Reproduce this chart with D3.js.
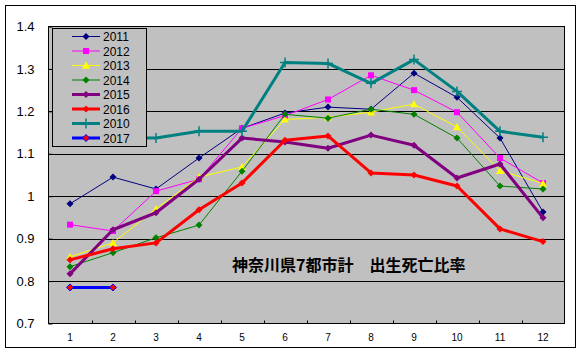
<!DOCTYPE html>
<html><head><meta charset="utf-8">
<script src="https://cdn.jsdelivr.net/npm/d3@7"></script>
<style>body{margin:0;background:#fff;}svg{display:block;font-family:"Liberation Sans",Arial,sans-serif;}</style>
</head><body>
<svg id="c" width="582" height="354"></svg>
<script>
const months = [1,2,3,4,5,6,7,8,9,10,11,12];
const yTicks = [0.7,0.8,0.9,1.0,1.1,1.2,1.3,1.4];
const yTickLabels = ["0.7","0.8","0.9","1","1.1","1.2","1.3","1.4"];
const seriesNames = ["2011","2012","2013","2014","2015","2016","2010","2017"];
const v2011 = [0.982,1.045,1.017,1.090,1.160,1.196,1.210,1.205,1.290,1.233,1.137,0.963];
const v2012 = [0.933,0.918,1.012,1.040,1.160,1.190,1.228,1.285,1.250,1.198,1.090,1.031];
const v2013 = [0.857,0.890,0.970,1.045,1.069,1.181,1.186,1.198,1.217,1.163,1.060,1.030];
const v2014 = [0.834,0.867,0.902,0.932,1.059,1.193,1.184,1.205,1.193,1.137,1.024,1.017];
const v2015 = [0.817,0.921,0.961,1.040,1.137,1.128,1.113,1.144,1.120,1.043,1.076,0.949];
const v2016 = [0.850,0.876,0.890,0.968,1.031,1.132,1.142,1.055,1.050,1.024,0.923,0.893];
const v2010 = [1.140,1.138,1.137,1.153,1.153,1.315,1.313,1.266,1.322,1.247,1.153,1.139];
const v2017 = [0.785,0.785,null,null,null,null,null,null,null,null,null,null];
const title = "神奈川県7都市計　出生死亡比率";

const styles = {
  "2011":{color:"#000080",w:1,marker:"diamond",fill:"#000080",size:7},
  "2012":{color:"#FF00FF",w:1,marker:"square",fill:"#FF00FF",size:7},
  "2013":{color:"#FFFF00",w:1,marker:"triangle",fill:"#FFFF00",size:8},
  "2014":{color:"#008000",w:1,marker:"diamond",fill:"#008000",size:7},
  "2015":{color:"#800080",w:3,marker:"diamond",fill:"#800080",size:7},
  "2016":{color:"#FF0000",w:3,marker:"diamond",fill:"#FF0000",size:7},
  "2010":{color:"#008080",w:3,marker:"plus",fill:"#008080",size:10},
  "2017":{color:"#0000FF",w:3,marker:"diamond",fill:"#FF0000",size:7}
};
const dataMap = {"2011":v2011,"2012":v2012,"2013":v2013,"2014":v2014,"2015":v2015,"2016":v2016,"2010":v2010,"2017":v2017};

const svg = d3.select("#c");
const L=48.5, R=564.5, T=26.5, B=323.5;

svg.append("rect").attr("x",5.5).attr("y",5.5).attr("width",570).attr("height",342)
  .attr("fill","#fff").attr("stroke","#000").attr("stroke-width",1);

svg.append("rect").attr("x",L).attr("y",T).attr("width",R-L).attr("height",B-T)
  .attr("fill","#C0C0C0");

const x = d3.scaleBand().domain(months).range([L,R]);
const y = d3.scaleLinear().domain([0.7,1.4]).range([B,T]);

// gridlines
svg.append("g").selectAll("line").data(yTicks.slice(1,-1)).join("line")
  .attr("x1",L).attr("x2",R).attr("y1",d=>Math.round(y(d))+0.5).attr("y2",d=>Math.round(y(d))+0.5)
  .attr("stroke","#000").attr("stroke-width",1);

// y axis
const yAxis = d3.axisLeft(y).tickValues(yTicks).tickFormat((d,i)=>yTickLabels[i]).tickSize(-4).tickPadding(14);
const gy = svg.append("g").attr("transform",`translate(${L},0)`).call(yAxis);
gy.select(".domain").remove();
gy.selectAll("line").attr("stroke","#000");
gy.selectAll("text").attr("font-size",13).attr("fill","#000");

// x axis
const xAxis = d3.axisBottom(x).tickSize(0).tickPadding(10);
const gx = svg.append("g").attr("transform",`translate(0,${B})`).call(xAxis);
gx.select(".domain").remove();
gx.selectAll("text").attr("font-size",10).attr("fill","#000");
svg.append("g").selectAll("line").data(months.slice(1)).join("line")
  .attr("x1",d=>Math.round(x(d))+0.5).attr("x2",d=>Math.round(x(d))+0.5)
  .attr("y1",B).attr("y2",B-3).attr("stroke","#000");

// plot border
svg.append("rect").attr("x",L).attr("y",T).attr("width",R-L).attr("height",B-T)
  .attr("fill","none").attr("stroke","#000").attr("stroke-width",1);

function markerPath(type,s){
  const h=s/2;
  if(type==="diamond") return `M0,${-h}L${h},0L0,${h}L${-h},0Z`;
  if(type==="square") return `M${-h+0.5},${-h+0.5}h${s-1}v${s-1}h${-(s-1)}Z`;
  if(type==="triangle") return `M0,${-h}L${h},${h*0.8}L${-h},${h*0.8}Z`;
  if(type==="plus") return `M${-h},0H${h}M0,${-h}V${h}`;
}
function drawMarker(g,st,cx,cy){
  const p=g.append("path").attr("d",markerPath(st.marker,st.size)).attr("transform",`translate(${cx},${cy})`);
  if(st.marker==="plus") p.attr("fill","none").attr("stroke",st.color).attr("stroke-width",1.5);
  else if(st.fill!==st.color) p.attr("fill",st.fill).attr("stroke",st.color).attr("stroke-width",1);
  else p.attr("fill",st.fill).attr("stroke","none");
}

const cx = d=>x(d)+x.bandwidth()/2;
seriesNames.forEach(name=>{
  const st=styles[name];
  const pts=months.map((m,i)=>({m,v:dataMap[name][i]}));
  const line=d3.line().defined(d=>d.v!=null).x(d=>cx(d.m)).y(d=>y(d.v));
  const g=svg.append("g");
  g.append("path").datum(pts).attr("d",line).attr("fill","none").attr("stroke",st.color).attr("stroke-width",st.w).attr("stroke-linejoin","round");
  pts.filter(d=>d.v!=null).forEach(d=>drawMarker(g,st,cx(d.m),y(d.v)));
});

// title text
svg.append("text").attr("x",232).attr("y",271).attr("font-size",16).attr("font-weight","bold")
  .attr("font-family","'Noto Sans CJK JP',sans-serif").attr("fill","#000").text(title);

// legend
const lg=svg.append("g");
lg.append("rect").attr("x",52.5).attr("y",28.5).attr("width",94).attr("height",118)
  .attr("fill","#C0C0C0").attr("stroke","#000");
seriesNames.forEach((name,i)=>{
  const st=styles[name];
  const ly=36.5+i*14.5;
  lg.append("line").attr("x1",72).attr("x2",100).attr("y1",ly).attr("y2",ly).attr("stroke",st.color).attr("stroke-width",st.w);
  drawMarker(lg,st,86,ly);
  lg.append("text").attr("x",103).attr("y",ly+4.5).attr("font-size",12).attr("fill","#000").text(name);
});
</script>
</body></html>
